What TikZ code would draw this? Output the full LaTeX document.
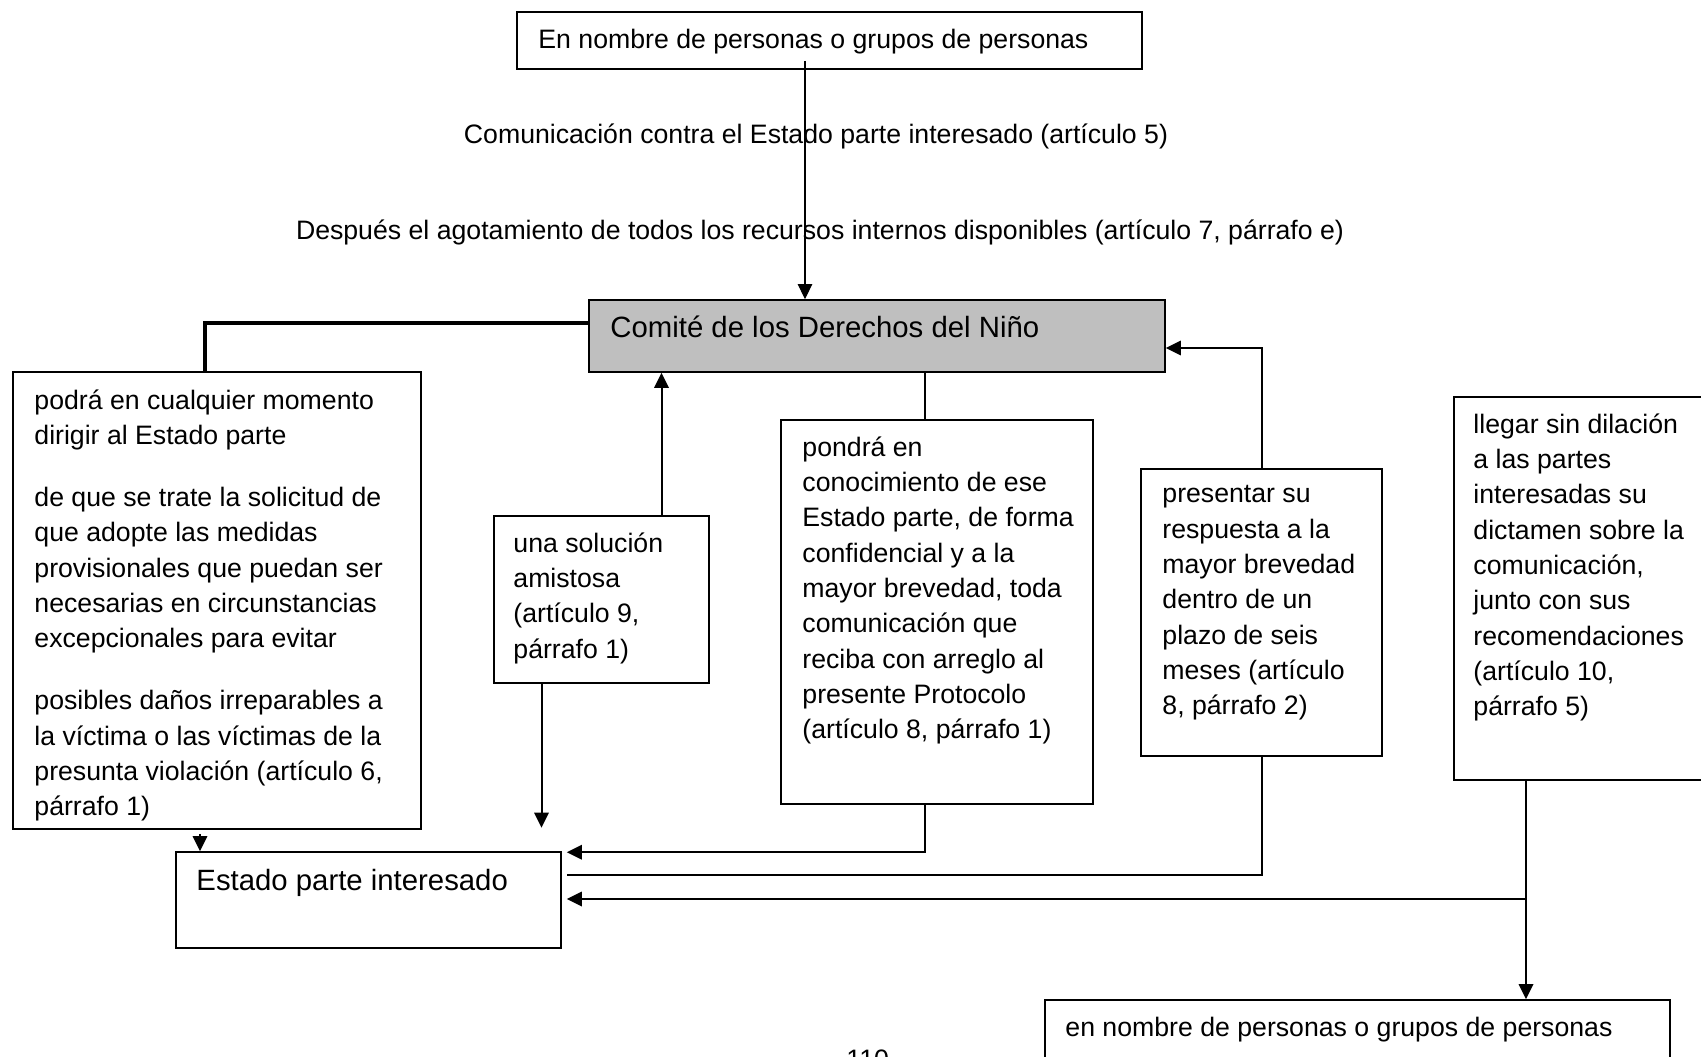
\documentclass[tikz,border=0pt]{standalone}
\usepackage{fontspec}
\setmainfont{Liberation Sans}
\usetikzlibrary{arrows.meta, fit}

\begin{document}
\begin{tikzpicture}[x = 0.45pt, y = -0.45pt,
  caja/.style = {draw, line width = 0.7pt, inner sep = 0pt},
  texto/.style = {anchor = north west, inner sep = 0pt, align = left, yshift = 8.9pt,
    font = \fontsize{12pt}{15.9pt}\selectfont, execute at begin node = \rule{0pt}{10pt}},
  grande/.style = {font = \fontsize{13.2pt}{16pt}\selectfont},
  conector/.style = {line width = 0.9pt},
  grueso/.style = {line width = 1.4pt},
  flecha/.style = {conector, -{Triangle[length = 6.8pt, width = 6.5pt]}}]
  \useasboundingbox (0, 0) rectangle (1701, 1057);
  \clip (0, 0) rectangle (1701, 1057);
  \def\parr{\\[12pt]}
  \node[caja, fit = {(517, 12) (1142, 69)}] (arriba) {};
  \node[caja, fill = black!25, fit = {(589, 300) (1165, 372)}] (comite) {};
  \node[caja, fit = {(13, 372) (421, 829)}] (izquierda) {};
  \node[caja, fit = {(176, 852) (561, 948)}] (estado) {};
  \node[caja, fit = {(494, 516) (709, 683)}] (solucion) {};
  \node[caja, fit = {(781, 420) (1093, 804)}] (pondra) {};
  \node[caja, fit = {(1141, 469) (1382, 756)}] (presentar) {};
  \node[caja, fit = {(1454, 397) (1720, 780)}] (llegar) {};
  \node[caja, fit = {(1045, 1000) (1670, 1070)}] (abajo) {};
  \node[texto] (arribat) at (538, 46) {En nombre de personas o grupos de personas};
  \node[texto, anchor = north] (comunicacion) at (816, 141) {Comunicación contra el Estado parte interesado (artículo 5)};
  \node[texto, anchor = north] (despues) at (820, 237) {Después el agotamiento de todos los recursos internos disponibles (artículo 7, párrafo e)};
  \node[texto, grande] (comitet) at (610, 335) {Comité de los Derechos del Niño};
  \node[texto] (izquierdat) at (34, 409) {podrá en cualquier momento\\
    dirigir al Estado parte\parr
    de que se trate la solicitud de\\
    que adopte las medidas\\
    provisionales que puedan ser\\
    necesarias en circunstancias\\
    excepcionales para evitar\parr
    posibles daños irreparables a\\
    la víctima o las víctimas de la\\
    presunta violación (artículo 6,\\
    párrafo 1)};
  \node[texto, grande] (estadot) at (196, 888) {Estado parte interesado};
  \node[texto] (soluciont) at (513, 552) {una solución\\amistosa\\(artículo 9,\\párrafo 1)};
  \node[texto] (pondrat) at (802, 456) {pondrá en\\conocimiento de ese\\Estado parte, de forma\\
    confidencial y a la\\mayor brevedad, toda\\comunicación que\\reciba con arreglo al\\
    presente Protocolo\\(artículo 8, párrafo 1)};
  \node[texto] (presentart) at (1162, 505) {presentar su\\respuesta a la\\mayor brevedad\\
    dentro de un\\plazo de seis\\meses (artículo\\8, párrafo 2)};
  \node[texto] (llegart) at (1473, 433) {llegar sin dilación\\a las partes\\interesadas su\\
    dictamen sobre la\\comunicación,\\junto con sus\\recomendaciones\\(artículo 10,\\párrafo 5)};
  \node[texto] (abajot) at (1065, 1034) {en nombre de personas o grupos de personas};
  \node[texto] (pagina) at (846, 1066) {110};
  \draw[flecha, line width = 0.5pt] ([shift = {(-24.5, -9)}]arriba.south) -- ([shift = {(-24.5, 0)}]arriba.south |- comite.north);
  \draw[grueso] ([shift = {(0, -13)}]comite.west) -| ([shift = {(-12, 0)}]izquierda.north);
  \draw[flecha] ([shift = {(-17, 4)}]izquierda.south) -- ([shift = {(-17, 0)}]izquierda.south |- estado.north);
  \draw[flecha] ([shift = {(60, 0)}]solucion.north) -- ([shift = {(60, 0)}]solucion.north |- comite.south);
  \draw[flecha] ([shift = {(-60, 0)}]solucion.south) -- ++(0, 144);
  \draw[conector] ([shift = {(-12, 0)}]pondra.north) -- ([shift = {(-12, 0)}]pondra.north |- comite.south);
  \draw[flecha] ([shift = {(-12, 0)}]pondra.south) |- ([shift = {(5, 1)}]estado.north east);
  \draw[flecha] (presentar.north) |- ([shift = {(0, 12)}]comite.east);
  \draw[conector] (presentar.south) |- ([shift = {(5, -25)}]estado.east);
  \draw[flecha] ([shift = {(-61, 0)}]llegar.south) |- ([shift = {(5, -1)}]estado.east);
  \draw[flecha] ([shift = {(-61, 0)}]llegar.south) -- ([shift = {(-61, 0)}]llegar.south |- abajo.north);
\end{tikzpicture}
\end{document}
